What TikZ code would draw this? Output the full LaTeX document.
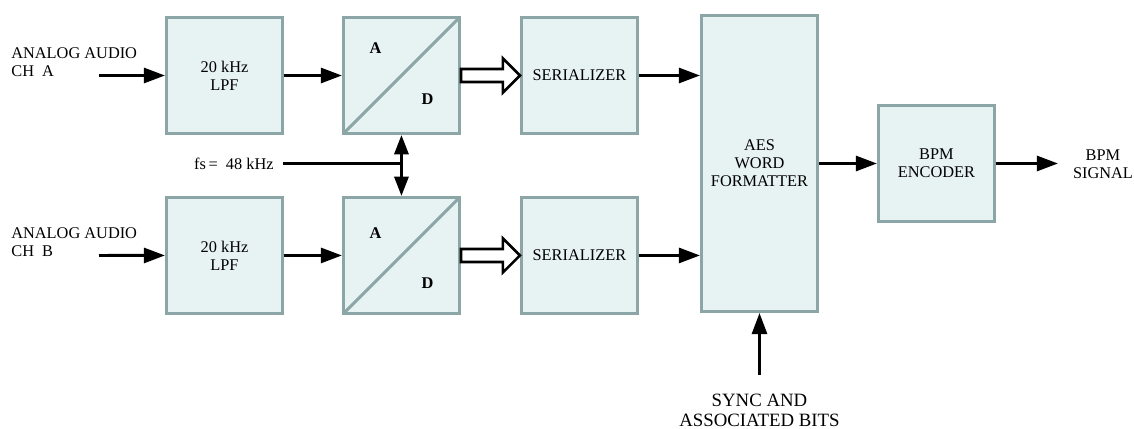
\documentclass[tikz,border=0pt]{standalone}
\usepackage{fontspec}
\setmainfont{Liberation Serif}
\usepackage{tikz}
\usetikzlibrary{arrows.meta, positioning, calc}
\definecolor{cBorder}{RGB}{140,165,166}
\definecolor{cFill}{RGB}{231,242,242}
\tikzset{
	blk/.style  ={rectangle, draw=cBorder, line width=1.7pt, fill=cFill, minimum width=2.32cm, minimum height=2.32cm, align=center, inner sep=0pt},
	lbl/.style  ={align=center, inner sep=0pt},
	adlbl/.style={font=\fontsize{9.3}{10.3}\selectfont\bfseries, inner sep=0pt},
	sig/.style  ={-{Triangle[length=12pt, width=8.5pt]}, line width=1.7pt},
	dsig/.style ={{Triangle[length=11pt, width=8pt]}-{Triangle[length=11pt, width=8pt]}, line width=1.7pt},
	% hollow bus arrow between converter and serializer
	wide/.style ={draw=black, line width=1.5pt, fill=white, line join=miter},
}
\begin{document}
\begin{tikzpicture}[x=0.02cm, y=-0.02cm, font=\fontsize{9.3}{10.3}\selectfont]
			\useasboundingbox (0,0) rectangle (1134,429);
			\node[blk] (lpfa) at (224.5,75.5) {20 kHz\\LPF};
			\node[blk, right=1.16cm of lpfa] (adca) {};
			\node[blk, right=1.18cm of adca] (sera) {SERIALIZER};
			\node[blk, below=1.22cm of lpfa] (lpfb) {20 kHz\\LPF};
			\node[blk, below=1.22cm of adca] (adcb) {};
			\node[blk, below=1.22cm of sera] (serb) {SERIALIZER};
			\node[blk, minimum height=5.92cm] (aes) at (759.5,163.5) {AES\\WORD\\FORMATTER};
			\node[blk, right=1.16cm of aes] (bpm) {BPM\\ENCODER};
			% converter symbols
			\foreach \n in {adca, adcb}
				\draw[cBorder, line width=1.7pt, shorten <=1.2pt, shorten >=1.2pt] (\n.south west) -- (\n.north east);
			\node[adlbl] (adcaA) at ($(adca)+(-26,-27)$) {A};
			\node[adlbl] (adcaD) at ($(adca)+(26,24)$) {D};
			\node[adlbl] (adcbA) at ($(adcb)+(-26,-22)$) {A};
			\node[adlbl] (adcbD) at ($(adcb)+(26,28)$) {D};
			% inputs and labels
			\node[lbl, align=left, anchor=west] (ina) at (11,62.5) {ANALOG AUDIO\\CH\ \ A};
			\node[lbl, align=left, anchor=west] (inb) at (11,242.5) {ANALOG AUDIO\\CH\ \ B};
			\node[lbl, anchor=east] (fs) at (274,163.5) {fs\,= \ 48 kHz};
			\node[lbl] (out) at (1103,164) {BPM\\SIGNAL};
			\node[lbl, font=\fontsize{10.7}{11.4}\selectfont] (syn) at (759.5,410) {SYNC AND\\ASSOCIATED BITS};
			\coordinate (ina0) at (99,75.5); \coordinate (inb0) at (99,255.5);
			\coordinate (fs0) at (283,163.5); \coordinate (out0) at (1058,163.5);
			\coordinate (syn0) at (759.5,375);
			\draw[sig] (ina0) -- (lpfa.west); \draw[sig] (lpfa) -- (adca);
			\draw[sig] (inb0) -- (lpfb.west); \draw[sig] (lpfb) -- (adcb);
			\foreach \a/\s in {adca/sera, adcb/serb}
				\draw[wide] ($(\a.east)+(0,-6.5)$) -- ($(\s.west)+(-17,-6.5)$) -- ($(\s.west)+(-17,-17)$) -- (\s.west) -- ($(\s.west)+(-17,17)$) -- ($(\s.west)+(-17,6.5)$) -- ($(\a.east)+(0,6.5)$) -- cycle;
			\draw[sig] (sera.east) -- (sera.east -| aes.west); \draw[sig] (serb.east) -- (serb.east -| aes.west);
			\draw[line width=1.7pt] (fs0) -- (fs0 -| adca.south);
			\draw[dsig] (adca.south) -- (adcb.north);
			\draw[sig] (aes.east) -- (bpm.west); \draw[sig] (bpm.east) -- (out0);
			\draw[sig] (syn0) -- (aes.south);
		\end{tikzpicture}
\end{document}
